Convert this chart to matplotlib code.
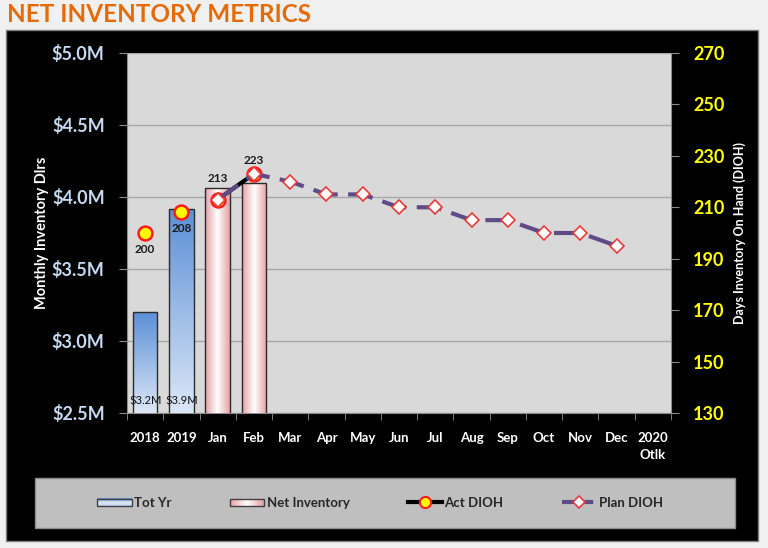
import numpy as np
import matplotlib
matplotlib.use('Agg')
import matplotlib.pyplot as plt
from matplotlib.patches import Rectangle
from matplotlib.lines import Line2D
from matplotlib.legend_handler import HandlerBase
from matplotlib.colors import LinearSegmentedColormap

plt.rcParams['font.family'] = ['Lato', 'DejaVu Sans']

# ---- data ----
categories = ['2018', '2019', 'Jan', 'Feb', 'Mar', 'Apr', 'May', 'Jun',
              'Jul', 'Aug', 'Sep', 'Oct', 'Nov', 'Dec', '2020\nOtlk']
tot_yr_idx = [0, 1]
tot_yr = [3.2, 3.92]                      # $M
net_inv_idx = [2, 3]
net_inv = [4.06, 4.10]                    # $M
act_idx = [0, 1, 2, 3]
act_dioh = [200, 208, 213, 223]
plan_idx = list(range(2, 14))
plan_dioh = [213, 223, 220, 215, 215, 210, 210, 205, 205, 200, 200, 195]

W, H = 768, 548
BLUE_TOP, BLUE_BOT = '#5b8fd6', '#dce7f7'
PINK_EDGE, PINK_MID = '#e6a0a6', '#ffffff'
PLAN_C = '#5e4b87'

fig = plt.figure(figsize=(W / 100, H / 100), dpi=100, facecolor='#f0f0f0')

# black panel behind the chart
fig.add_artist(Rectangle((6 / W, 1 - 541 / H), 752 / W, 511 / H, transform=fig.transFigure,
                         facecolor='black', edgecolor='#7f7f7f', lw=1, zorder=0))
# legend box
fig.add_artist(Rectangle((35 / W, 1 - 528 / H), 700 / W, 50 / H, transform=fig.transFigure,
                         facecolor='#bfbfbf', edgecolor='#8c8c8c', lw=1, zorder=1))

fig.text(7 / W, 1 - 14 / H, 'NET INVENTORY METRICS', color='#e36c09',
         fontsize=17.5, fontweight='bold', va='center', ha='left')

ax = fig.add_axes([127 / W, 1 - 413 / H, 544 / W, 360 / H])
ax.set_facecolor('#d9d9d9')
x = np.arange(len(categories))
ax.set_xlim(-0.5, len(categories) - 0.5)
YMIN, YMAX = 2.5, 5.0

# gradient bars
blue_cmap = LinearSegmentedColormap.from_list('b', [BLUE_BOT, BLUE_TOP])
pink_cmap = LinearSegmentedColormap.from_list('p', [PINK_EDGE, PINK_MID, PINK_EDGE])
bw = 0.68
bars1 = ax.bar(tot_yr_idx, tot_yr, width=bw, facecolor='none', edgecolor='#2b2b2b', lw=1, zorder=4)
bars2 = ax.bar(net_inv_idx, net_inv, width=bw, facecolor='none', edgecolor='#2b2b2b', lw=1, zorder=4)
vgrad = np.linspace(0, 1, 256).reshape(-1, 1)
hgrad = np.linspace(0, 1, 256).reshape(1, -1)
for b in bars1:
    im = ax.imshow(vgrad, extent=[b.get_x(), b.get_x() + b.get_width(), YMIN, b.get_height()],
                   origin='lower', aspect='auto', cmap=blue_cmap, zorder=3)
    im.set_clip_path(b)
for b in bars2:
    im = ax.imshow(hgrad, extent=[b.get_x(), b.get_x() + b.get_width(), YMIN, b.get_height()],
                   origin='lower', aspect='auto', cmap=pink_cmap, zorder=3)
    im.set_clip_path(b)

for i, v in zip(tot_yr_idx, tot_yr):
    ax.annotate('${:.1f}M'.format(v), (i, YMIN), xytext=(0, 5), textcoords='offset points',
                ha='center', va='bottom', fontsize=8, color='#111111', zorder=6)

ax.set_ylim(YMIN, YMAX)
ax.set_yticks(np.arange(2.5, 5.01, 0.5))
ax.set_yticklabels(['${:.1f}M'.format(v) for v in np.arange(2.5, 5.01, 0.5)])
ax.yaxis.grid(True, color='#a6a6a6', lw=1)
ax.set_axisbelow(True)
ax.set_xticks(x)
ax.set_xticklabels(categories, color='white', fontsize=9.5, fontweight='bold',
                   linespacing=1.5, va='top')
ax.set_xticks(np.arange(-0.5, len(categories), 1), minor=True)
ax.tick_params(axis='x', which='major', length=0, pad=14)
ax.tick_params(axis='x', which='minor', length=5, color='#8c8c8c')
ax.tick_params(axis='y', which='major', length=6, color='#8c8c8c', pad=10,
               labelcolor='#c6d9f0', labelsize=13)
for lbl in ax.get_yticklabels():
    lbl.set_fontweight('bold')
for s in ['top', 'right']:
    ax.spines[s].set_visible(False)
for s in ['left', 'bottom']:
    ax.spines[s].set_color('#8c8c8c')
ax.set_ylabel('Monthly Inventory Dlrs', color='white', fontsize=10.5, fontweight='bold', labelpad=2)

# DIOH on right axis
ax2 = ax.twinx()
ax2.set_ylim(130, 270)
ax2.set_yticks(np.arange(130, 271, 20))
ax2.tick_params(axis='y', length=6, color='#8c8c8c', pad=10, labelcolor='#ffff00', labelsize=13)
for lbl in ax2.get_yticklabels():
    lbl.set_fontweight('bold')
for s in ['top', 'left', 'bottom']:
    ax2.spines[s].set_visible(False)
ax2.spines['right'].set_color('#8c8c8c')
ax2.set_ylabel('Days Inventory On Hand (DIOH)', color='white', fontsize=9, fontweight='bold',
               labelpad=6)

# actual: markers for the years, line for the months
ax2.plot(act_idx[2:], act_dioh[2:], color='black', lw=3, zorder=5)
ax2.plot(act_idx, act_dioh, ls='none', marker='o', ms=10, mfc='#ffff00', mec='#ff1a1a',
         mew=1.8, zorder=6)
ax2.plot(plan_idx, plan_dioh, color=PLAN_C, lw=3, dashes=(6, 2.5), marker='D', ms=7.5,
         mfc='white', mec='#e83a3a', mew=1.2, zorder=7)

act_offsets = [-16, -16, 21, 13]
for i, v, off in zip(act_idx, act_dioh, act_offsets):
    ax2.annotate(str(v), (i, v), xytext=(0, off), textcoords='offset pixels', ha='center',
                 va='center', fontsize=8.5, fontweight='bold', color='#1a1a1a', zorder=8)


# legend with gradient swatches
class GradHandler(HandlerBase):
    def __init__(self, colors, horizontal):
        super().__init__()
        self.colors = colors
        self.horizontal = horizontal

    def create_artists(self, legend, orig_handle, xd, yd, width, height, fontsize, trans):
        n = 30
        cm = LinearSegmentedColormap.from_list('g', self.colors)
        arts = []
        y0, hh = -yd + height * 0.1, height * 0.8
        for k in range(n):
            c = cm(k / (n - 1))
            if self.horizontal:
                r = Rectangle((-xd + width * k / n, y0), width / n + 0.2, hh, facecolor=c, lw=0)
            else:
                r = Rectangle((-xd, y0 + hh * (n - 1 - k) / n), width, hh / n + 0.2, facecolor=c, lw=0)
            arts.append(r)
        arts.append(Rectangle((-xd, y0), width, hh, facecolor='none', edgecolor='#404040', lw=1))
        for a in arts:
            a.set_transform(trans)
        return arts


h_tot = Rectangle((0, 0), 1, 1)
h_net = Rectangle((0, 0), 1, 1)
h_act = Line2D([], [], color='black', lw=3, marker='o', ms=8, mfc='#ffff00', mec='#ff1a1a', mew=1.5)
h_plan = Line2D([], [], color=PLAN_C, lw=3, dashes=(3, 1.5), marker='D', ms=6.5, mfc='white',
                mec='#e83a3a', mew=1.2)
leg = fig.legend([h_tot, h_net, h_act, h_plan], ['Tot Yr', 'Net Inventory', 'Act DIOH', 'Plan DIOH'],
                 loc='center', bbox_to_anchor=(380 / W, 1 - 503 / H), ncol=4, frameon=False,
                 handlelength=2.6, handletextpad=0.2, columnspacing=4.4, numpoints=1,
                 prop={'size': 9.5, 'weight': 'bold'},
                 handler_map={h_tot: GradHandler([BLUE_TOP, '#dce7f7', '#c3d6f0'], False),
                              h_net: GradHandler([PINK_EDGE, PINK_MID, PINK_EDGE], True)})
for t in leg.get_texts():
    t.set_color('#262626')
leg.set_zorder(2)

fig.savefig('out.png', dpi=100, facecolor=fig.get_facecolor())
